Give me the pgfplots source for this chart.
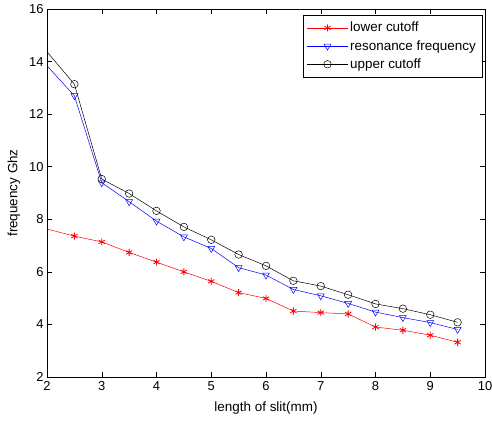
\documentclass[border=0pt]{standalone}
\usepackage{fontspec}
\setmainfont{Liberation Sans}
\usepackage{pgfplots}
\pgfplotsset{compat=1.18}

% slit length (mm) vs frequency (GHz)
\pgfplotstableread{
x     low   res    up
2.0   7.63  13.84  14.37
2.5   7.36  12.70  13.14
3.0   7.14  9.39   9.53
3.5   6.74  8.67   8.98
4.0   6.37  7.93   8.32
4.5   6.00  7.33   7.71
5.0   5.64  6.89   7.22
5.5   5.21  6.16   6.66
6.0   4.99  5.88   6.23
6.5   4.51  5.33   5.66
7.0   4.45  5.09   5.46
7.5   4.40  4.80   5.13
8.0   3.90  4.47   4.78
8.5   3.78  4.26   4.60
9.0   3.59  4.07   4.37
9.5   3.32  3.81   4.08
}\slit

\begin{document}
\begin{tikzpicture}
\begin{axis}[
  scale only axis,
  width=438bp, height=368bp,
  xmin=2, xmax=10, ymin=2, ymax=16,
  xtick={2,3,...,10}, ytick={2,4,...,16},
  tick align=inside,
  major tick length=5bp,
  axis line style={line width=0.5pt},
  every tick/.style={black, line width=0.5pt},
  /pgf/number format/assume math mode=true,
  tick label style={font=\fontsize{13}{15}\selectfont},
  label style={font=\fontsize{13.5}{16}\selectfont},
  xticklabel style={yshift=-1bp},
  xlabel={length of slit(mm)},
  ylabel={frequency Ghz},
  xlabel style={yshift=-4bp},
  ylabel style={yshift=2bp},
  legend cell align=left,
  legend style={at={(1,1)}, anchor=north east, xshift=-3bp, yshift=-6bp,
    draw=black, line width=0.5pt, font=\fontsize{13.5}{16}\selectfont,
    row sep=3bp, inner xsep=4bp, inner ysep=5bp},
  legend image code/.code={
    \draw[mark indices={2}] plot coordinates {(0cm,0cm) (0.72cm,0cm) (1.44cm,0cm)};
  },
  mark indices={2,...,16},
]
\addplot[red, line width=0.5pt, mark=asterisk, mark size=3.6pt,
  mark options={line width=0.8pt}] table[x=x, y=low] {\slit};
\addlegendentry{lower cutoff}
\addplot[blue, line width=0.5pt, mark=triangle, mark size=4pt,
  mark options={rotate=180}] table[x=x, y=res] {\slit};
\addlegendentry{resonance frequency}
\addplot[black, line width=0.5pt, mark=o, mark size=3.8pt] table[x=x, y=up] {\slit};
\addlegendentry{upper cutoff}
\end{axis}
\pgfresetboundingbox
\path ([shift={(-47bp,-43bp)}]current axis.south west) rectangle ([shift={(7bp,9bp)}]current axis.north east);
\end{tikzpicture}
\end{document}
